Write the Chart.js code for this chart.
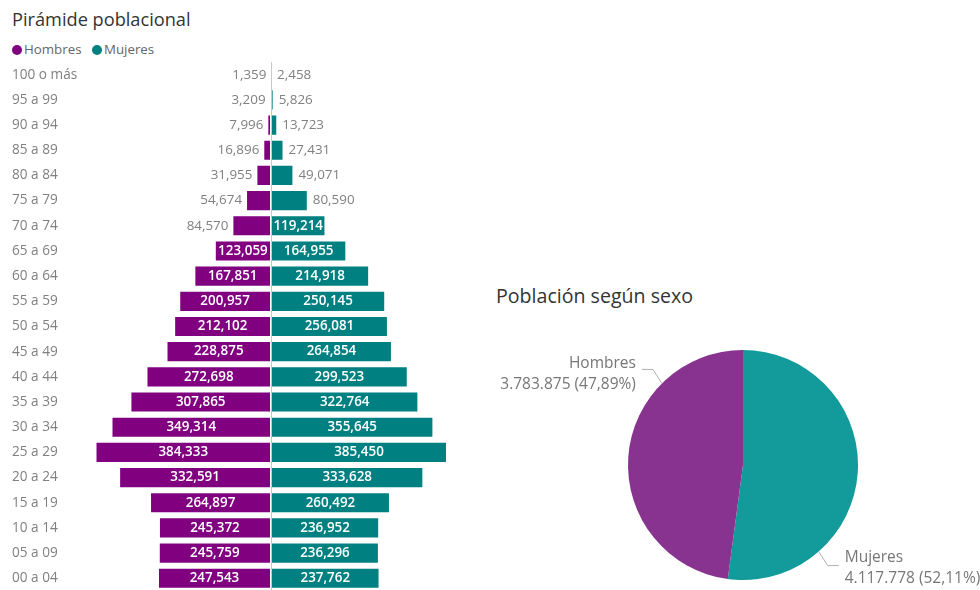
<!DOCTYPE html>
<html>
<head>
<meta charset="utf-8">
<script src="https://cdn.jsdelivr.net/npm/chart.js@4.4.1/dist/chart.umd.min.js"></script>
<style>
    body { margin: 0; background: #fff; font-family: "Open Sans", sans-serif; }
    #wrap { position: relative; width: 980px; height: 590px; overflow: hidden; }
    .titulo { position: absolute; color: #333; white-space: nowrap; }
    #legend { position: absolute; left: 12px; top: 40px; font-size: 13.3px; color: #666; }
    #legend span.dot { display: inline-block; width: 10px; height: 10px; border-radius: 50%; vertical-align: -1px; margin-right: 2px; }
    #legend span.item { margin-right: 7px; }
    canvas { position: absolute; }
</style>
</head>
<body>
<div id="wrap">
    <div class="titulo" style="left:12px; top:7px; font-size:18.2px;">Pirámide poblacional</div>
    <div id="legend">
        <span class="item"><span class="dot" style="background:#800080"></span>Hombres</span>
        <span class="item"><span class="dot" style="background:#008080"></span>Mujeres</span>
    </div>
    <canvas id="piramide" width="460" height="545" style="left:0; top:54px;"></canvas>

    <div class="titulo" style="left:496px; top:282px; font-size:19.6px;">Población según sexo</div>
    <canvas id="sexo" width="500" height="320" style="left:480px; top:270px;"></canvas>
</div>

<script>
//------------- Datos -------------
var grupos = ["100 o más", "95 a 99", "90 a 94", "85 a 89", "80 a 84", "75 a 79", "70 a 74",
    "65 a 69", "60 a 64", "55 a 59", "50 a 54", "45 a 49", "40 a 44", "35 a 39", "30 a 34",
    "25 a 29", "20 a 24", "15 a 19", "10 a 14", "05 a 09", "00 a 04"];
var hombres = [1359, 3209, 7996, 16896, 31955, 54674, 84570, 123059, 167851, 200957, 212102,
    228875, 272698, 307865, 349314, 384333, 332591, 264897, 245372, 245759, 247543];
var mujeres = [2458, 5826, 13723, 27431, 49071, 80590, 119214, 164955, 214918, 250145, 256081,
    264854, 299523, 322764, 355645, 385450, 333628, 260492, 236952, 236296, 237762];
var sexos = ["Mujeres", "Hombres"];

var colorHombres = '#800080';
var colorMujeres = '#008080';

//------------- Formatos -------------
function fmtComa(n) { return Math.abs(n).toString().replace(/\B(?=(\d{3})+(?!\d))/g, ','); }
function fmtPunto(n) { return n.toString().replace(/\B(?=(\d{3})+(?!\d))/g, '.'); }
function fmtPct(p) { return (p * 100).toFixed(2).replace('.', ',') + '%'; }

//------------- Piramide -------------
// etiquetas de valor: dentro de la barra si cabe, si no por fuera
var etiquetasBarras = {
    id: 'etiquetasBarras',
    afterDatasetsDraw: function (chart) {
        var ctx = chart.ctx;
        var xs = chart.scales.x;
        var area = chart.chartArea;
        // linea del cero
        var x0 = Math.round(xs.getPixelForValue(0)) + 0.5;
        ctx.save();
        ctx.strokeStyle = '#c8c8c8';
        ctx.lineWidth = 1;
        ctx.beginPath();
        ctx.moveTo(x0, area.top);
        ctx.lineTo(x0, area.bottom);
        ctx.stroke();

        ctx.textBaseline = 'middle';
        chart.data.datasets.forEach(function (ds, i) {
            var meta = chart.getDatasetMeta(i);
            meta.data.forEach(function (bar, j) {
                var txt = fmtComa(ds.data[j]);
                var izq = Math.min(bar.x, bar.base);
                var der = Math.max(bar.x, bar.base);
                ctx.font = '600 13.4px "Open Sans"';
                var w = ctx.measureText(txt).width;
                if (w + 2 <= der - izq) {
                    ctx.fillStyle = '#fff';
                    ctx.textAlign = 'center';
                    ctx.fillText(txt, (izq + der) / 2, bar.y);
                } else {
                    ctx.font = '13.4px "Open Sans"';
                    ctx.fillStyle = '#808080';
                    if (ds.data[j] < 0) {
                        ctx.textAlign = 'right';
                        ctx.fillText(txt, izq - 4, bar.y);
                    } else {
                        ctx.textAlign = 'left';
                        ctx.fillText(txt, der + 5, bar.y);
                    }
                }
            });
        });
        ctx.restore();
    }
};

var maxValor = Math.max(Math.max.apply(null, hombres), Math.max.apply(null, mujeres));

var piramide = new Chart(document.getElementById('piramide').getContext('2d'), {
    type: 'bar',
    data: {
        labels: grupos,
        datasets: [{
            label: 'Hombres',
            data: hombres.map(function (v) { return -v; }),
            backgroundColor: colorHombres,
            borderColor: 'rgba(255,255,255,0.35)',
            borderWidth: 1,
            borderSkipped: false,
            barPercentage: 0.84,
            categoryPercentage: 1
        }, {
            label: 'Mujeres',
            data: mujeres,
            backgroundColor: colorMujeres,
            borderColor: 'rgba(255,255,255,0.35)',
            borderWidth: 1,
            borderSkipped: false,
            barPercentage: 0.84,
            categoryPercentage: 1
        }]
    },
    options: {
        indexAxis: 'y',
        responsive: false,
        animation: false,
        layout: { padding: { left: 12, right: 13, top: 0, bottom: 0 } },
        plugins: { legend: { display: false }, tooltip: { enabled: false } },
        scales: {
            x: { stacked: true, display: false, min: -maxValor, max: maxValor },
            y: {
                stacked: true,
                grid: { display: false },
                border: { display: false },
                ticks: {
                    color: '#808080',
                    crossAlign: 'far',
                    padding: 0,
                    font: { family: 'Open Sans', size: 13.6 }
                },
                afterFit: function (scale) { scale.width = 83; }
            }
        }
    },
    plugins: [etiquetasBarras]
});

//------------- Torta -------------
var totales = [
    mujeres.reduce(function (a, b) { return a + b; }, 0),
    hombres.reduce(function (a, b) { return a + b; }, 0)
];
var totalGeneral = totales[0] + totales[1];

// etiquetas con linea guia
var etiquetasTorta = {
    id: 'etiquetasTorta',
    afterDatasetsDraw: function (chart) {
        var ctx = chart.ctx;
        var meta = chart.getDatasetMeta(0);
        ctx.save();
        meta.data.forEach(function (arc, i) {
            var ang = arc.startAngle + (arc.endAngle - arc.startAngle) * 0.74;
            var r = arc.outerRadius;
            var px = arc.x + Math.cos(ang) * r;
            var py = arc.y + Math.sin(ang) * r;
            var sx = Math.cos(ang) < 0 ? -1 : 1;
            var sy = Math.sin(ang) < 0 ? -1 : 1;
            var ex = px + sx * 9;
            var ey = py + sy * 14;
            var hx = ex + sx * 11;
            ctx.strokeStyle = '#b0b0b0';
            ctx.lineWidth = 1;
            ctx.beginPath();
            ctx.moveTo(px, py);
            ctx.lineTo(ex, ey);
            ctx.lineTo(hx, ey);
            ctx.stroke();

            ctx.font = '15.5px "Open Sans"';
            ctx.fillStyle = '#777';
            ctx.textBaseline = 'middle';
            ctx.textAlign = sx < 0 ? 'right' : 'left';
            var tx = hx + sx * 6;
            var dy = sy < 0 ? 2 : 0;
            ctx.fillText(sexos[i], tx, ey - 8 + dy);
            ctx.fillText(fmtPunto(totales[i]) + ' (' + fmtPct(totales[i] / totalGeneral) + ')', tx, ey + 13 + dy);
        });
        ctx.restore();
    }
};

var torta = new Chart(document.getElementById('sexo').getContext('2d'), {
    type: 'pie',
    data: {
        labels: sexos,
        datasets: [{
            data: totales,
            backgroundColor: ['#139b9b', '#88338f'],
            borderWidth: 0
        }]
    },
    options: {
        responsive: false,
        animation: false,
        layout: { padding: { left: 148, right: 122, top: 80, bottom: 10 } },
        plugins: { legend: { display: false }, tooltip: { enabled: false } }
    },
    plugins: [etiquetasTorta]
});
</script>
</body>
</html>
